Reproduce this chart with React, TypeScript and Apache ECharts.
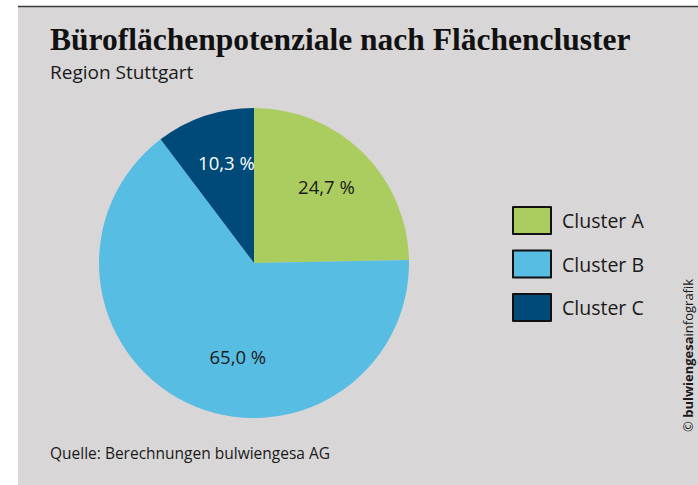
import React, { useEffect, useRef } from "react";
import * as echarts from "echarts";

const categories = ["Cluster A", "Cluster B", "Cluster C"];
const shares = [24.7, 65.0, 10.3];
const sliceColors = ["#abcc5f", "#58bde3", "#004a79"];
const labelColors = ["#1a1a1a", "#1a1a1a", "#ffffff"];
const labelOffsets = [[16, -19], [19, 21], [-2, -24]];

const titleText = "Büroflächenpotenziale nach Flächencluster";
const subtitleText = "Region Stuttgart";
const sourceText = "Quelle: Berechnungen bulwiengesa AG";

export default function App() {
  const ref = useRef<HTMLDivElement>(null);
  useEffect(() => {
    if (!ref.current) return;
    const chart = echarts.init(ref.current, undefined, { renderer: "svg" });
    const sans = "'Open Sans', 'Noto Sans', sans-serif";
    chart.setOption({
      animation: false,
      backgroundColor: "#ffffff",
      graphic: [
        { type: "rect", z: -10, shape: { x: 18, y: 7, width: 680, height: 478 }, style: { fill: "#d8d6d7" } },
        { type: "line", shape: { x1: 18, y1: 6.5, x2: 698, y2: 6.5 }, style: { stroke: "#3a3a3a", lineWidth: 1.5 } },
        {
          type: "text", x: 50, y: 39,
          style: { text: titleText, fill: "#111111", font: "bold 31.5px 'Liberation Serif', serif", verticalAlign: "middle" },
        },
        {
          type: "text", x: 50, y: 72,
          style: { text: subtitleText, fill: "#1a1a1a", font: `19px ${sans}`, verticalAlign: "middle" },
        },
        {
          type: "text", x: 50, y: 453,
          style: { text: sourceText, fill: "#1a1a1a", font: `15.5px ${sans}`, verticalAlign: "middle" },
        },
        {
          type: "text", x: 688, y: 432, rotation: Math.PI / 2,
          style: {
            text: "{c|© }{b|bulwiengesa}{n|infografik}",
            verticalAlign: "middle", align: "left",
            rich: {
              c: { font: `13px ${sans}`, fill: "#1a1a1a" },
              b: { font: `bold 13px ${sans}`, fill: "#1a1a1a" },
              n: { font: `13px ${sans}`, fill: "#1a1a1a" },
            },
          },
        },
      ],
      legend: {
        orient: "vertical",
        left: 507,
        top: 201,
        icon: "rect",
        itemWidth: 38,
        itemHeight: 27,
        itemGap: 14.5,
        itemStyle: { borderColor: "#111111", borderWidth: 2 },
        textStyle: { fontFamily: sans, fontSize: 19.5, color: "#1a1a1a", padding: [0, 0, 0, 6] },
        data: categories,
      },
      series: [
        {
          type: "pie",
          center: [254, 263],
          radius: [0, 155],
          startAngle: 90,
          clockwise: true,
          avoidLabelOverlap: false,
          labelLine: { show: false },
          itemStyle: { borderWidth: 0 },
          emphasis: { disabled: true },
          label: {
            show: true,
            position: "inside",
            fontFamily: sans,
            fontSize: 18.5,
            formatter: (p: any) => p.value.toFixed(1).replace(".", ",") + " %",
          },
          data: categories.map((name, i) => ({
            name,
            value: shares[i],
            itemStyle: { color: sliceColors[i] },
            label: { color: labelColors[i], offset: labelOffsets[i] },
          })),
        },
      ],
    });
    return () => chart.dispose();
  }, []);
  return <div ref={ref} style={{ position: "fixed", left: 0, top: 0, width: 698, height: 485 }} />;
}
